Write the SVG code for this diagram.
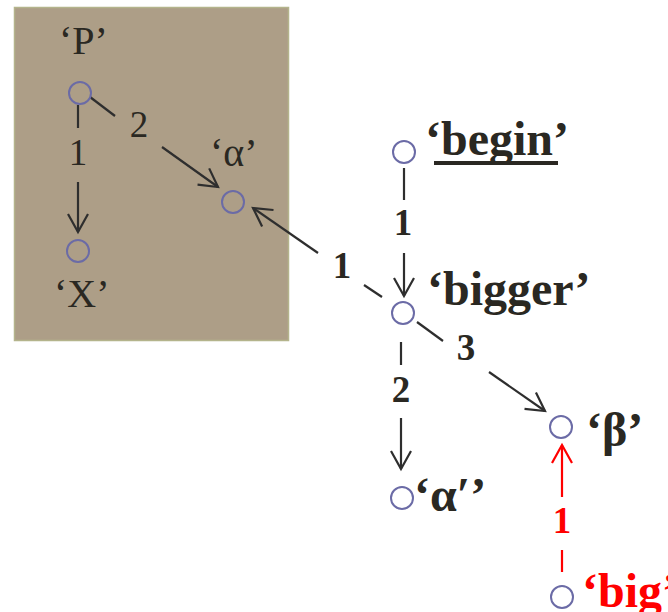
<svg xmlns="http://www.w3.org/2000/svg" width="668" height="612" viewBox="0 0 668 612">
<style>
.nd{fill:none;stroke:#6b6ba6;stroke-width:2}
.e{stroke:#2e2e2e;stroke-width:2.2;fill:none}
.er{stroke:#ff0000;stroke-width:2.2;fill:none}
.t{font-family:"Liberation Serif","Times New Roman",serif;fill:#2a2822}
.r{font-size:40px}
.b{font-size:48px;font-weight:bold}
.el{font-family:"Liberation Serif","Times New Roman",serif;font-size:37px;text-anchor:middle;fill:#2a2822}
.red{fill:#ff0000}
</style>
<defs>
<marker id="ah" markerUnits="userSpaceOnUse" markerWidth="24" markerHeight="24" viewBox="-20 -12 24 24" refX="0" refY="0" orient="auto">
<path d="M-18,-10 L0,0 L-18,10" fill="none" stroke="#2e2e2e" stroke-width="2.2"/>
</marker>
<marker id="ahr" markerUnits="userSpaceOnUse" markerWidth="24" markerHeight="24" viewBox="-20 -12 24 24" refX="0" refY="0" orient="auto">
<path d="M-18,-10 L0,0 L-18,10" fill="none" stroke="#ff0000" stroke-width="2.2"/>
</marker>
</defs>
<rect x="0" y="0" width="668" height="612" fill="#ffffff"/>
<rect id="box" x="14.5" y="7.5" width="274" height="333" fill="#ad9e87" stroke="#b4b48c" stroke-width="1.5"/>
<g id="connectors">
<line class="e" x1="78" y1="105" x2="78" y2="128"/>
<line class="e" x1="78" y1="182" x2="78" y2="232" marker-end="url(#ah)"/>
<text class="el" x="78" y="165">1</text>
<line class="e" x1="90" y1="97" x2="115" y2="116"/>
<line class="e" x1="162" y1="147" x2="218" y2="187" marker-end="url(#ah)"/>
<text class="el" x="139" y="137">2</text>
<line class="e" x1="382" y1="297" x2="364" y2="285"/>
<line class="e" x1="318" y1="253" x2="253" y2="208" marker-end="url(#ah)"/>
<text class="el" x="342" y="278" font-weight="bold">1</text>
<line class="e" x1="404" y1="168" x2="404" y2="200"/>
<line class="e" x1="404" y1="253" x2="404" y2="296" marker-end="url(#ah)"/>
<text class="el" x="403" y="235" font-weight="bold">1</text>
<line class="e" x1="401" y1="342" x2="401" y2="365"/>
<line class="e" x1="401" y1="418" x2="401" y2="469" marker-end="url(#ah)"/>
<text class="el" x="401" y="402" font-weight="bold">2</text>
<line class="e" x1="417" y1="322" x2="443" y2="341"/>
<line class="e" x1="489" y1="372" x2="545" y2="411" marker-end="url(#ah)"/>
<text class="el" x="466" y="360" font-weight="bold">3</text>
<line class="er" x1="562" y1="572" x2="562" y2="550"/>
<line class="er" x1="562" y1="497" x2="562" y2="445" marker-end="url(#ahr)"/>
<text class="el red" x="562" y="533" font-weight="bold">1</text>
</g>
<g id="node-P"><circle class="nd" cx="80" cy="93" r="11"/><text class="t r" x="59" y="54">‘P’</text></g>
<g id="node-X"><circle class="nd" cx="78" cy="251" r="11"/><text class="t r" x="54" y="307">‘X’</text></g>
<g id="node-alpha"><circle class="nd" cx="233" cy="202" r="11"/><text class="t r" x="210" y="166">‘α’</text></g>
<g id="node-begin"><circle class="nd" cx="404" cy="152" r="11"/><text class="t b" x="425" y="155">‘begin’</text><line x1="434" y1="163" x2="558" y2="163" stroke="#2a2822" stroke-width="4"/></g>
<g id="node-bigger"><circle class="nd" cx="403" cy="313" r="11"/><text class="t b" x="427" y="305">‘bigger’</text></g>
<g id="node-beta"><circle class="nd" cx="561" cy="427" r="11"/><text class="t b" x="586" y="446">‘β’</text></g>
<g id="node-alpha2"><circle class="nd" cx="402" cy="498" r="11"/><text class="t b" x="414" y="511">‘α′’</text></g>
<g id="node-big"><circle class="nd" cx="562" cy="597" r="11"/><text class="t b red" x="582" y="607">‘big’</text></g>
</svg>
